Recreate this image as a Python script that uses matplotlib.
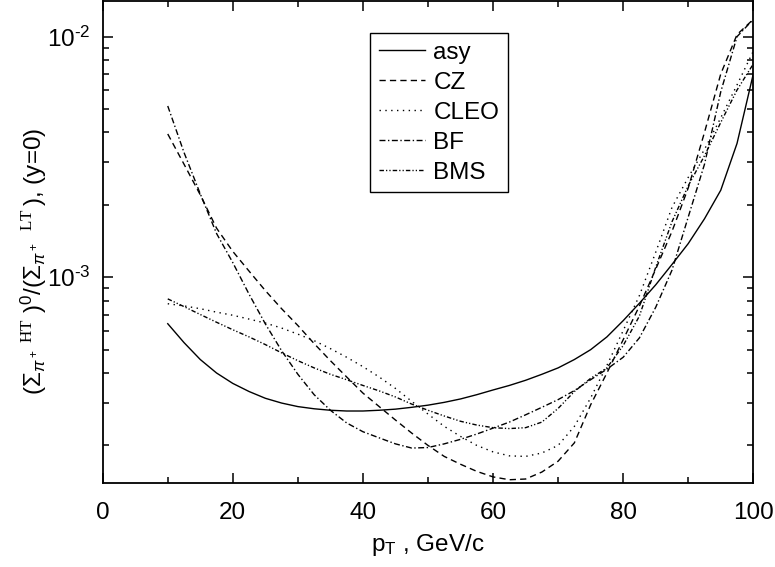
import matplotlib
matplotlib.use("Agg")
import matplotlib.pyplot as plt
import numpy as np
from matplotlib.ticker import LogLocator, NullFormatter, MultipleLocator, FuncFormatter

plt.rcParams["font.family"] = ["Liberation Sans", "DejaVu Sans"]
plt.rcParams["mathtext.fontset"] = "custom"
plt.rcParams["mathtext.rm"] = "Liberation Sans"
plt.rcParams["mathtext.it"] = "Liberation Sans:italic"
plt.rcParams["mathtext.bf"] = "Liberation Serif"
plt.rcParams["axes.unicode_minus"] = False

pt = [10, 12.5, 15, 17.5, 20, 22.5, 25, 27.5, 30, 32.5, 35, 37.5, 40, 42.5, 45, 47.5,
      50, 52.5, 55, 57.5, 60, 62.5, 65, 67.5, 70, 72.5, 75, 77.5, 80, 82.5, 85, 87.5,
      90, 92.5, 95, 97.5, 100]

asy = [6.41e-4, 5.35e-4, 4.55e-4, 4.0e-4, 3.62e-4, 3.35e-4, 3.14e-4, 3.0e-4, 2.9e-4,
       2.84e-4, 2.8e-4, 2.78e-4, 2.78e-4, 2.8e-4, 2.83e-4, 2.88e-4, 2.94e-4, 3.02e-4,
       3.12e-4, 3.25e-4, 3.4e-4, 3.55e-4, 3.73e-4, 3.95e-4, 4.2e-4, 4.55e-4, 5.0e-4,
       5.65e-4, 6.6e-4, 7.8e-4, 9.3e-4, 1.13e-3, 1.38e-3, 1.75e-3, 2.3e-3, 3.6e-3, 7.0e-3]

cz = [3.94e-3, 2.95e-3, 2.2e-3, 1.6e-3, 1.28e-3, 1.06e-3, 8.8e-4, 7.4e-4, 6.3e-4,
      5.3e-4, 4.5e-4, 3.85e-4, 3.3e-4, 2.9e-4, 2.55e-4, 2.25e-4, 2.0e-4, 1.8e-4,
      1.67e-4, 1.56e-4, 1.48e-4, 1.44e-4, 1.45e-4, 1.55e-4, 1.72e-4, 2.05e-4, 2.95e-4,
      4.0e-4, 5.5e-4, 7.6e-4, 1.08e-3, 1.55e-3, 2.35e-3, 4.0e-3, 7.0e-3, 1.02e-2, 1.18e-2]

cleo = [7.76e-4, 7.6e-4, 7.4e-4, 7.16e-4, 6.95e-4, 6.7e-4, 6.45e-4, 6.15e-4, 5.8e-4,
        5.45e-4, 5.05e-4, 4.65e-4, 4.25e-4, 3.85e-4, 3.45e-4, 3.05e-4, 2.7e-4, 2.4e-4,
        2.18e-4, 2.0e-4, 1.88e-4, 1.81e-4, 1.8e-4, 1.86e-4, 2.0e-4, 2.4e-4, 3.15e-4,
        4.3e-4, 6.0e-4, 8.4e-4, 1.27e-3, 1.95e-3, 2.6e-3, 3.4e-3, 4.6e-3, 6.3e-3, 8.7e-3]

bf = [5.15e-3, 3.3e-3, 2.22e-3, 1.52e-3, 1.15e-3, 8.5e-4, 6.4e-4, 4.95e-4, 3.95e-4,
      3.25e-4, 2.8e-4, 2.48e-4, 2.28e-4, 2.15e-4, 2.03e-4, 1.95e-4, 1.96e-4, 2.03e-4,
      2.12e-4, 2.23e-4, 2.36e-4, 2.5e-4, 2.68e-4, 2.88e-4, 3.1e-4, 3.38e-4, 3.75e-4,
      4.15e-4, 4.65e-4, 5.6e-4, 7.5e-4, 1.07e-3, 1.78e-3, 2.95e-3, 5.9e-3, 1.0e-2, 1.18e-2]

bms = [8.13e-4, 7.55e-4, 7.0e-4, 6.5e-4, 6.05e-4, 5.65e-4, 5.25e-4, 4.85e-4, 4.5e-4,
       4.2e-4, 3.95e-4, 3.75e-4, 3.55e-4, 3.37e-4, 3.18e-4, 2.97e-4, 2.8e-4, 2.65e-4,
       2.52e-4, 2.43e-4, 2.37e-4, 2.35e-4, 2.37e-4, 2.5e-4, 2.85e-4, 3.35e-4, 3.8e-4,
       4.2e-4, 5.2e-4, 6.9e-4, 1.1e-3, 1.7e-3, 2.4e-3, 3.2e-3, 4.4e-3, 6.0e-3, 7.7e-3]

labels = ["asy", "CZ", "CLEO", "BF", "BMS"]

fig = plt.figure(figsize=(7.75, 5.67), dpi=100)
ax = fig.add_axes([0.1325, 0.1487, 0.8395, 0.8487])

lw = 1.0
ax.plot(pt, asy, color="black", lw=lw, linestyle="-", label=labels[0])
ax.plot(pt, cz, color="black", lw=lw, linestyle=(0, (4.5, 3)), label=labels[1])
ax.plot(pt, cleo, color="black", lw=lw, linestyle=(0, (1, 3.2)), label=labels[2])
ax.plot(pt, bf, color="black", lw=lw, linestyle=(0, (4.3, 1.8, 1, 1.8)), label=labels[3])
ax.plot(pt, bms, color="black", lw=lw, linestyle=(0, (3.2, 1.5, 0.9, 1.5, 0.9, 1.5)), label=labels[4])

ax.set_yscale("log")
ax.set_xlim(0, 100)
ax.set_ylim(1.4e-4, 1.4e-2)


def dec_label(v, pos):
    e = int(round(np.log10(v)))
    return r"$10^{\text{-}%d}$" % abs(e)


ax.xaxis.set_major_locator(MultipleLocator(20))
ax.xaxis.set_minor_locator(MultipleLocator(10))
ax.yaxis.set_major_locator(LogLocator(base=10, numticks=10))
ax.yaxis.set_minor_locator(LogLocator(base=10, subs=range(2, 10), numticks=20))
ax.yaxis.set_major_formatter(FuncFormatter(dec_label))
ax.yaxis.set_minor_formatter(NullFormatter())

fs = 17.5
ax.tick_params(which="both", direction="in", top=True, right=True, width=1.1,
               labelsize=fs, colors="black")
ax.tick_params(which="major", length=7.5)
ax.tick_params(axis="x", which="major", pad=14)
ax.tick_params(axis="y", which="major", pad=9)
ax.tick_params(which="minor", length=4)
for s in ax.spines.values():
    s.set_linewidth(1.3)

ax.set_xlabel(r"p$_\mathrm{T}$ , GeV/c", fontsize=fs, labelpad=6)
ax.set_ylabel(r"$(\Sigma_{\pi^+}{}^{\ \mathbf{HT}}\ )^0/(\Sigma_{\pi^+}{}^{\ \ \mathbf{LT}}\,)$, (y=0)",
              fontsize=fs)
ax.yaxis.set_label_coords(-0.082, 0.459)

leg = ax.legend(loc="upper left", bbox_to_anchor=(0.411, 0.9345), borderaxespad=0,
                fontsize=fs, fancybox=False, edgecolor="black", framealpha=1,
                handlelength=1.9, handletextpad=0.35, labelspacing=0.33, borderpad=0.35)
leg.get_frame().set_linewidth(1.0)

fig.savefig("out.png", dpi=100)
